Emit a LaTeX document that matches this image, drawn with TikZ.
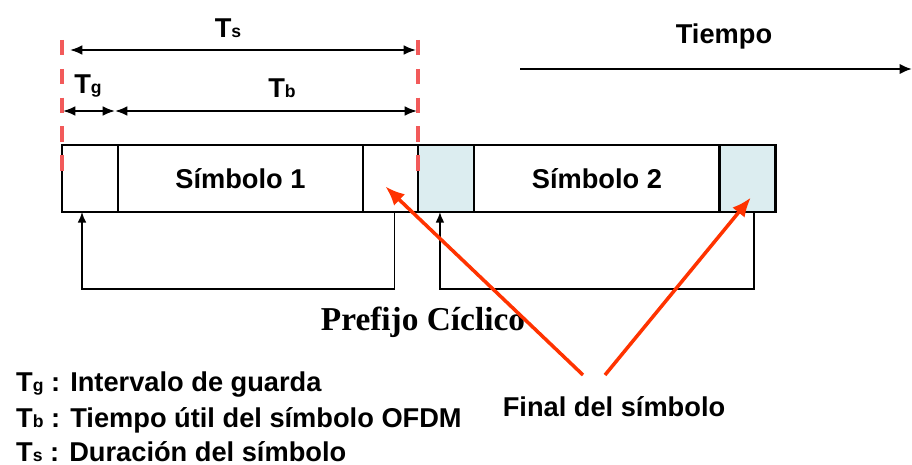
\documentclass[tikz,border=0pt]{standalone}
\usepackage{fontspec}
\setmainfont{Liberation Sans}
\newfontfamily\serifbf{Liberation Serif}
\usetikzlibrary{positioning, arrows.meta, calc}
\definecolor{cRed}{HTML}{FF3300}
\definecolor{cDash}{HTML}{F25A5A}
\definecolor{cCyc}{HTML}{DCEDF0}
\newcommand{\tsub}[1]{{\fontsize{10}{10}\selectfont #1}}

\begin{document}
\begin{tikzpicture}[x=0.02cm, y=-0.02cm,
  cell/.style={draw, line width=1.6pt, minimum height=1.34cm, outer sep=0pt,
               inner sep=0pt, font=\bfseries\fontsize{15.5}{18}\selectfont},
  lbl/.style={font=\bfseries\fontsize{15.5}{18}\selectfont},
  dim/.style={{Latex[length=7pt,width=5.5pt]}-{Latex[length=7pt,width=5.5pt]}, line width=1pt},
  loop/.style={-{Latex[length=6pt,width=5pt]}, line width=1pt},
  cut/.style={cDash, line width=2pt, dash pattern=on 8.8pt off 7.6pt},
  hint/.style={cRed, line width=2pt, -{Latex[length=11pt,width=9pt]}},
]
  \useasboundingbox (0,0) rectangle (912,465);

  % two OFDM symbols, each with guard and tail
  \node[cell, minimum width=1.12cm] (g1) at (90,178.5) {};
  \node[cell, minimum width=4.9cm, right=0pt of g1] (s1) {Símbolo 1};
  \node[cell, minimum width=1.1cm, right=0pt of s1] (e1) {};
  \node[cell, minimum width=1.12cm, fill=cCyc, right=0pt of e1] (g2) {};
  \node[cell, minimum width=4.92cm, right=0pt of g2] (s2) {Símbolo 2};
  \node[cell, minimum width=1.12cm, fill=cCyc, right=0pt of s2] (e2) {};

  % symbol limits
  \coordinate (cutL) at (62,40);
  \coordinate (cutR) at (418,40);
  \draw[cut] (cutL) -- ++(0,132);
  \draw[cut] (cutR) -- ++(0,132);

  % durations
  \coordinate (tsA) at (70,50);
  \coordinate (tsB) at (416,50);
  \draw[dim] (tsA) -- (tsB);
  \node[lbl] (ts) at (228,28) {T\tsub{s}};
  \coordinate (tgA) at (63,111);
  \coordinate (tgB) at (115,111);
  \coordinate (tbB) at (417,111);
  \draw[dim] (tgA) -- (tgB);
  \draw[dim] (tgB) -- (tbB);
  \node[lbl] (tg) at (88,86) {T\tsub{g}};
  \node[lbl] (tb) at (282,88) {T\tsub{b}};

  % time axis
  \node[lbl] (tiempo) at (724,36) {Tiempo};
  \coordinate (tA) at (520,69);
  \coordinate (tB) at (912,69);
  \draw[line width=1.7pt, -{Latex[length=7pt,width=6pt]}] (tA) -- (tB);

  % cyclic prefix copies
  \draw[loop] ($(e1.south)+(4,0)$) -- ++(0,77) -| ($(g1.south)+(-8,0)$);
  \draw[loop] ($(e2.south)+(6,0)$) -- ++(0,77) -| ($(g2.south)+(-6,0)$);
  \node[font=\serifbf\bfseries\fontsize{19}{22}\selectfont] (pc) at (423,322) {Prefijo Cíclico};

  % end of symbol
  \node[lbl] (fin) at (614,407) {Final del símbolo};
  \coordinate (fA) at (583,375);
  \coordinate (fB) at (605,375);
  \draw[hint] (fA) -- ($(e1.center)+(-5,8)$);
  \draw[hint] (fB) -- ($(e2.center)+(3,19)$);

  % legend
  \node[lbl, anchor=west] (lg) at (10,385) {T\tsub{g} : Intervalo de guarda};
  \node[lbl, anchor=west] (lb) at (10,420) {T\tsub{b} : Tiempo útil del símbolo OFDM};
  \node[lbl, anchor=west] (ls) at (10,452) {T\tsub{s} : Duración del símbolo};
\end{tikzpicture}
\end{document}
